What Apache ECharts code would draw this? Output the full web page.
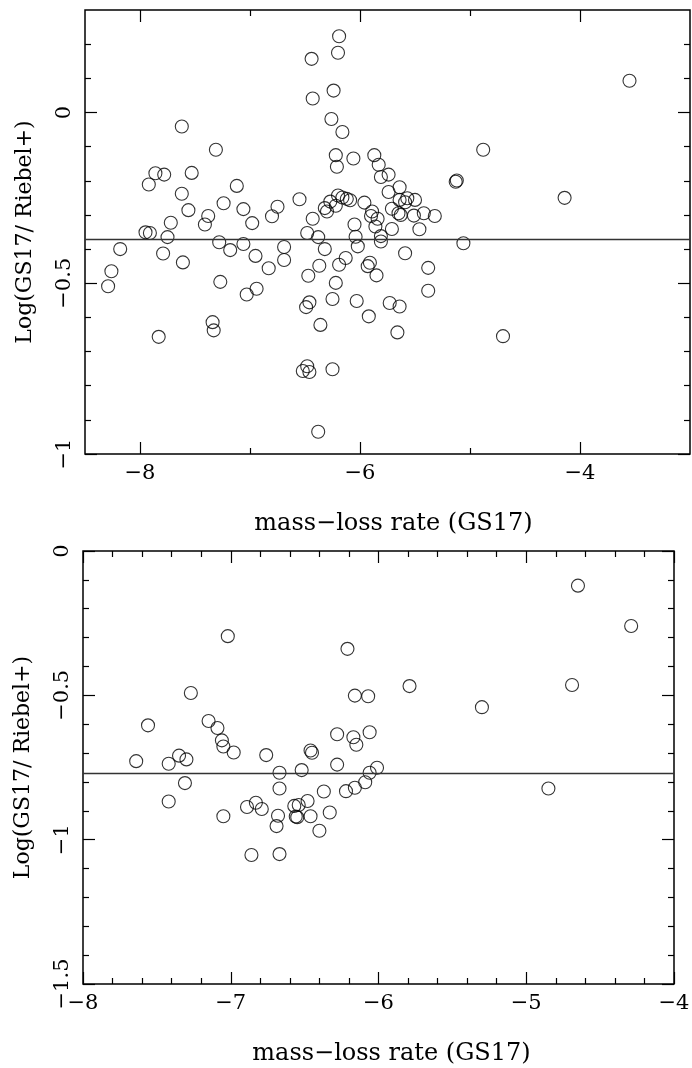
<!DOCTYPE html>
<html>
<head>
<meta charset="utf-8">
<script src="https://cdn.jsdelivr.net/npm/echarts@6/dist/echarts.min.js"></script>
<style>
  html, body { margin: 0; padding: 0; background: #fff; }
  #chart { width: 692px; height: 1068px; }
</style>
</head>
<body>
<div id="chart"></div>
<script>
// upper panel: all stars
const topX = [-6.19, -6.20, -6.44, -6.24, -6.43, -6.26, -6.16, -7.62, -7.31, -6.22,
  -6.06, -6.21, -5.87, -5.83, -5.81, -7.86, -7.78, -7.53, -7.92, -7.12,
  -7.62, -7.24, -7.56, -7.06, -6.75, -6.55, -7.72, -7.38, -7.41, -6.98,
  -6.80, -6.43, -7.95, -7.91, -6.48, -6.38, -7.75, -6.32, -6.30, -6.27,
  -6.22, -6.20, -6.16, -6.12, -6.09, -5.96, -5.89, -5.90, -5.84, -5.86,
  -6.05, -6.04, -5.81, -5.81, -8.18, -8.26, -8.29, -7.79, -7.61, -7.28,
  -7.18, -7.06, -6.95, -6.83, -6.69, -6.69, -7.27, -7.03, -6.94, -7.34,
  -7.33, -7.83, -6.47, -6.37, -6.32, -6.19, -6.13, -6.22, -6.25, -6.03,
  -6.02, -5.91, -5.93, -5.85, -5.92, -6.46, -6.49, -6.36, -6.48, -6.52,
  -6.46, -6.25, -6.38, -5.74, -5.64, -5.74, -5.71, -5.64, -5.59, -5.57,
  -5.50, -5.63, -5.65, -5.51, -5.42, -5.32, -5.71, -5.46, -5.12, -5.13,
  -5.06, -5.59, -5.38, -5.38, -5.73, -5.64, -5.66, -4.88, -4.70, -4.14,
  -3.55];
const topY = [0.223, 0.175, 0.157, 0.064, 0.041, -0.019, -0.057, -0.041, -0.109, -0.125,
  -0.135, -0.159, -0.125, -0.153, -0.189, -0.178, -0.182, -0.177, -0.211, -0.215,
  -0.238, -0.266, -0.286, -0.283, -0.276, -0.254, -0.323, -0.303, -0.328, -0.324,
  -0.304, -0.311, -0.351, -0.353, -0.353, -0.365, -0.365, -0.280, -0.290, -0.261,
  -0.273, -0.243, -0.249, -0.253, -0.257, -0.264, -0.290, -0.303, -0.311, -0.334,
  -0.328, -0.364, -0.362, -0.378, -0.400, -0.465, -0.509, -0.413, -0.439, -0.380,
  -0.403, -0.385, -0.420, -0.456, -0.394, -0.432, -0.496, -0.533, -0.516, -0.614,
  -0.638, -0.657, -0.478, -0.449, -0.400, -0.446, -0.426, -0.499, -0.546, -0.552,
  -0.392, -0.440, -0.450, -0.477, -0.597, -0.556, -0.570, -0.622, -0.743, -0.757,
  -0.760, -0.752, -0.935, -0.182, -0.219, -0.233, -0.282, -0.256, -0.263, -0.251,
  -0.256, -0.300, -0.295, -0.302, -0.295, -0.303, -0.341, -0.342, -0.199, -0.203,
  -0.383, -0.412, -0.455, -0.522, -0.558, -0.568, -0.644, -0.109, -0.655, -0.250,
  0.093];
const topMean = -0.367;

// lower panel
const botX = [-7.02, -6.21, -7.27, -6.16, -6.07, -5.79, -7.56, -7.15, -7.09, -7.06,
  -7.05, -6.98, -6.28, -6.17, -6.15, -6.06, -7.64, -7.42, -7.35, -7.30,
  -6.76, -6.46, -6.45, -6.28, -6.67, -6.52, -6.01, -6.06, -6.09, -6.16,
  -6.22, -6.37, -7.31, -7.42, -6.67, -6.89, -6.83, -6.79, -6.68, -6.69,
  -6.57, -6.54, -6.56, -6.55, -6.48, -6.46, -6.33, -6.40, -7.05, -6.86,
  -6.67, -4.65, -4.29, -5.30, -4.69, -4.85];
const botY = [-0.295, -0.339, -0.492, -0.501, -0.503, -0.468, -0.604, -0.589, -0.613, -0.656,
  -0.677, -0.698, -0.635, -0.645, -0.671, -0.628, -0.728, -0.737, -0.709, -0.722,
  -0.707, -0.691, -0.699, -0.740, -0.768, -0.759, -0.751, -0.768, -0.801, -0.820,
  -0.832, -0.833, -0.804, -0.868, -0.823, -0.887, -0.872, -0.894, -0.917, -0.953,
  -0.883, -0.880, -0.920, -0.922, -0.866, -0.919, -0.906, -0.969, -0.919, -1.053,
  -1.050, -0.120, -0.260, -0.541, -0.464, -0.823];
const botMean = -0.768;

// ticks
const topXMajor = [-8, -6, -4];
const topXMinor = [-7, -5];
const topYMajor = [-1, -0.5, 0];
const topYMinor = [-0.9, -0.8, -0.7, -0.6, -0.4, -0.3, -0.2, -0.1, 0.1, 0.2];
const botXMajor = [-8, -7, -6, -5, -4];
const botXMinor = [-7.8, -7.6, -7.4, -7.2, -6.8, -6.6, -6.4, -6.2, -5.8, -5.6, -5.4, -5.2, -4.8, -4.6, -4.4, -4.2];
const botYMajor = [-1.5, -1, -0.5, 0];
const botYMinor = [-1.4, -1.3, -1.2, -1.1, -0.9, -0.8, -0.7, -0.6, -0.4, -0.3, -0.2, -0.1];

const xTitle = 'mass\u2212loss rate (GS17)';
const yTitle = 'Log(GS17/ Riebel+)';

const font = 'DejaVu Serif';
const fmt = v => String(v).replace('-', '\u2212');

const xAxes = [];
const yAxes = [];

// one tick set on one side of a panel; labels/title only on the main one
function axis(list, grid, pos, min, max, ticks, len, name, isY, shift) {
  const a = {
    type: 'value', gridIndex: grid, position: pos, min: min, max: max,
    axisLine: { show: false, onZero: false },
    splitLine: { show: false },
    axisTick: { show: true, inside: true, length: len, customValues: ticks,
      lineStyle: { color: '#000', width: 1.2 } },
    axisLabel: { show: false }
  };
  if (name) {
    a.axisLabel = { show: true, customValues: ticks, color: '#000', fontFamily: font,
      fontSize: 21, formatter: fmt, margin: isY ? 10 : 9, rotate: isY ? 90 : 0 };
    a.name = name;
    a.nameLocation = 'middle';
    a.nameRotate = isY ? 90 : 0;
    a.nameGap = isY ? 49 : 58;
    a.nameTextStyle = { color: '#000', fontFamily: font, fontSize: isY ? 22 : 24,
      padding: [0, 0, 0, shift || 0] };
  }
  list.push(a);
  return list.length - 1;
}

function panel(grid, xr, yr, xMaj, xMin, yMaj, yMin, shift) {
  const xi = axis(xAxes, grid, 'bottom', xr[0], xr[1], xMaj, 12, xTitle, false, shift);
  axis(xAxes, grid, 'bottom', xr[0], xr[1], xMin, 6);
  axis(xAxes, grid, 'top', xr[0], xr[1], xMaj, 12);
  axis(xAxes, grid, 'top', xr[0], xr[1], xMin, 6);
  const yi = axis(yAxes, grid, 'left', yr[0], yr[1], yMaj, 12, yTitle, true);
  axis(yAxes, grid, 'left', yr[0], yr[1], yMin, 6);
  axis(yAxes, grid, 'right', yr[0], yr[1], yMaj, 12);
  axis(yAxes, grid, 'right', yr[0], yr[1], yMin, 6);
  return [xi, yi];
}

const p1 = panel(0, [-8.5, -3], [-1, 0.3], topXMajor, topXMinor, topYMajor, topYMinor, 12);
const p2 = panel(1, [-8, -4], [-1.5, 0], botXMajor, botXMinor, botYMajor, botYMinor, 26);

function scatter(idx, xs, ys, mean) {
  return {
    type: 'scatter', xAxisIndex: idx[0], yAxisIndex: idx[1],
    data: xs.map((x, i) => [x, ys[i]]),
    symbol: 'circle', symbolSize: 13,
    itemStyle: { color: 'rgba(0,0,0,0)', borderColor: '#000', borderWidth: 1.1 },
    emphasis: { disabled: true },
    silent: true,
    markLine: {
      silent: true, symbol: ['none', 'none'], label: { show: false },
      lineStyle: { color: '#333', width: 1.3, type: 'solid' },
      emphasis: { disabled: true },
      data: [{ yAxis: mean }]
    }
  };
}

const chart = echarts.init(document.getElementById('chart'));
chart.setOption({
  animation: false,
  backgroundColor: '#fff',
  grid: [
    { left: 85, top: 10, width: 605, height: 444, show: true, borderColor: '#000', borderWidth: 1.5, outerBoundsMode: 'none' },
    { left: 83, top: 551, width: 591, height: 433, show: true, borderColor: '#000', borderWidth: 1.5, outerBoundsMode: 'none' }
  ],
  xAxis: xAxes,
  yAxis: yAxes,
  series: [
    scatter(p1, topX, topY, topMean),
    scatter(p2, botX, botY, botMean)
  ]
});
</script>
</body>
</html>
